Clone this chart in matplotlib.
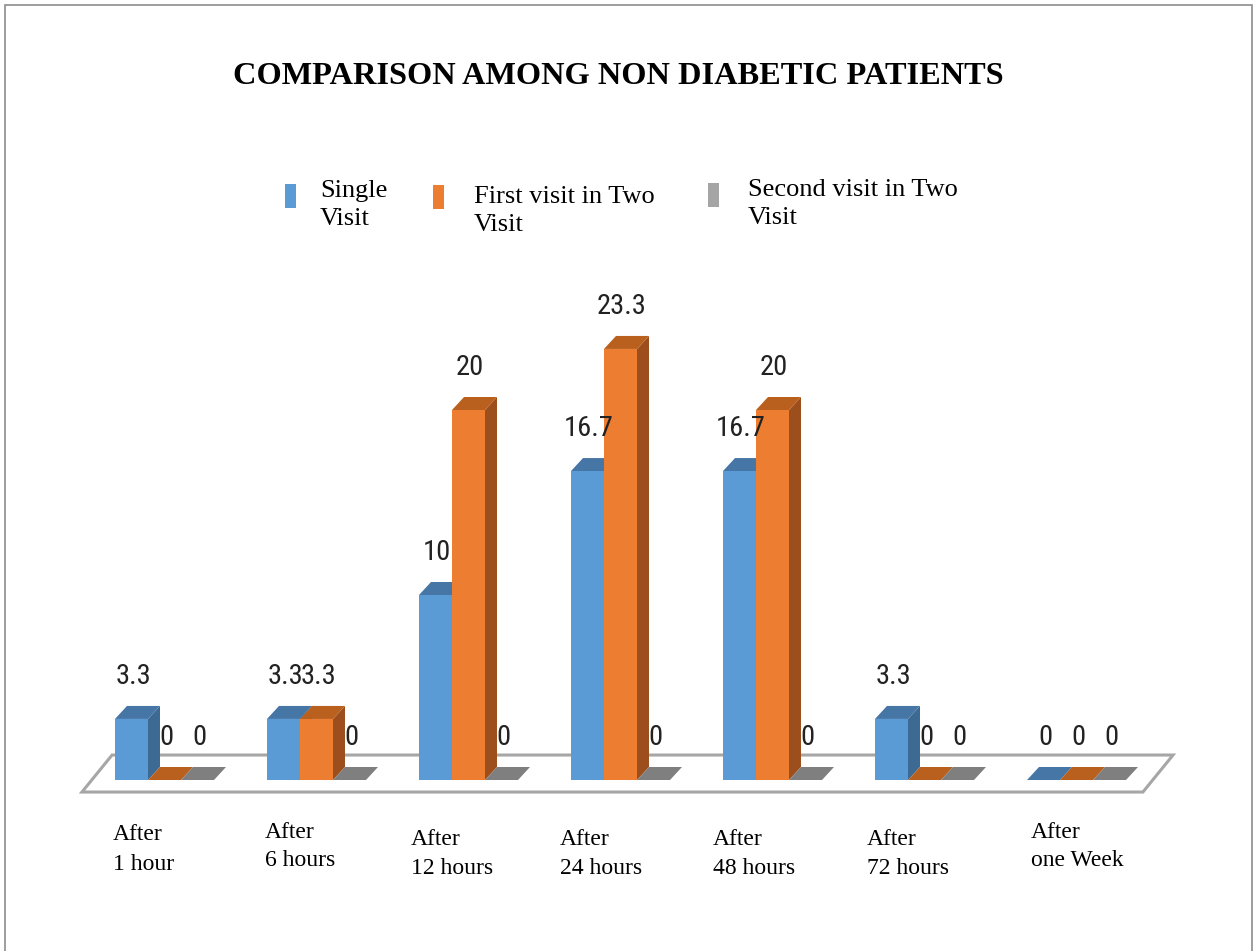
import matplotlib
matplotlib.use("Agg")
import matplotlib.pyplot as plt
from matplotlib.patches import Polygon, Rectangle
from matplotlib import font_manager

# ---- data -------------------------------------------------------------
categories = ["After\n1 hour", "After\n6 hours", "After\n12 hours", "After\n24 hours",
              "After\n48 hours", "After\n72 hours", "After\none Week"]
series_names = ["Single\nVisit", "First visit in Two\nVisit", "Second visit in Two\nVisit"]
single_visit = [3.3, 3.3, 10, 16.7, 16.7, 3.3, 0]
first_visit = [0, 3.3, 20, 23.3, 20, 0, 0]
second_visit = [0, 0, 0, 0, 0, 0, 0]
series_values = [single_visit, first_visit, second_visit]

# ---- styling ----------------------------------------------------------
W, H = 1259, 951
front_colors = ["#5B9BD5", "#ED7D31", "#A5A5A5"]
top_colors = ["#4676A6", "#B9601F", "#7F7F7F"]
side_colors = ["#3D6A93", "#9C4F1C", "#6E6E6E"]

available = {f.name for f in font_manager.fontManager.ttflist}
narrow = "DejaVu Sans"
for cand in ["Liberation Sans Narrow", "DejaVu Sans Condensed", "Roboto Condensed"]:
    if cand in available:
        narrow = cand
        break
serif = "Liberation Serif"

fig = plt.figure(figsize=(W / 100, H / 100), dpi=100)
ax = fig.add_axes([0, 0, 1, 1])
ax.axis("off")

group_px = 152.0          # pixels between category groups
unit_px = 18.5            # pixels per value unit
x0_px, base_px = 164.5, 780.0
ax.set_xlim(-x0_px / group_px, (W - x0_px) / group_px)
ax.set_ylim(-(H - base_px) / unit_px, base_px / unit_px)

bw = 33 / group_px        # bar width
ddx = 12 / group_px       # depth offset in x
ddy = 13 / unit_px        # depth offset in y

# floor of the 3-D plot
floor = Polygon([(-0.543, -0.65), (6.437, -0.65), (6.635, 1.35), (-0.345, 1.35)],
                closed=True, facecolor="white", edgecolor="#A6A6A6", lw=2.2, zorder=1)
ax.add_patch(floor)

for i, cat in enumerate(categories):
    for s, vals in enumerate(series_values):
        v = vals[i]
        xl = i - 1.5 * bw + s * bw
        xr = xl + bw
        z = 2 + i * 10 + s * 3
        side = Polygon([(xr, 0), (xr + ddx, ddy), (xr + ddx, v + ddy), (xr, v)],
                       closed=True, facecolor=side_colors[s], edgecolor="none", zorder=z)
        top = Polygon([(xl, v), (xr, v), (xr + ddx, v + ddy), (xl + ddx, v + ddy)],
                      closed=True, facecolor=top_colors[s], edgecolor="none", zorder=z + 1)
        front = Rectangle((xl, 0), bw, v, facecolor=front_colors[s], edgecolor="none",
                          zorder=z + 2)
        ax.add_patch(side)
        ax.add_patch(top)
        ax.add_patch(front)
        ax.text(xl + bw / 2 + 0.01, v + ddy + 1.6, f"{v:g}", ha="center", va="center",
                fontsize=20.5, family=narrow, color="#222222", zorder=200)

# category labels
label_dx = [-51.5, -51.5, -57.5, -60.5, -59.5, -57.5, -45.5]
label_y = [849.5, 846.5, 854, 854, 854, 854, 846.5]
for i, cat in enumerate(categories):
    ax.text(i + label_dx[i] / group_px, (base_px - label_y[i]) / unit_px, cat,
            ha="left", va="center", fontsize=17, family=serif, linespacing=1.5,
            color="black")

# title
fig.text(618 / W, 1 - 76 / H, "COMPARISON AMONG NON DIABETIC PATIENTS", ha="center",
         va="center", fontsize=23.3, fontweight="bold", family=serif)

# legend
leg_marker_x = [285, 433, 708]
leg_marker_y = [196, 197, 195]
leg_text_x = [320, 474, 748]
leg_text_y = [205, 211, 204]
for s, name in enumerate(series_names):
    fig.add_artist(Rectangle((leg_marker_x[s] / W, 1 - (leg_marker_y[s] + 12) / H),
                             11 / W, 24 / H, transform=fig.transFigure,
                             facecolor=front_colors[s], edgecolor="none"))
    fig.text(leg_text_x[s] / W, 1 - leg_text_y[s] / H, name, ha="left", va="center",
             fontsize=19, family=serif, linespacing=1.4)

# outer border
fig.add_artist(Rectangle((5 / W, -0.01), 1247 / W, 1 - 5 / H + 0.01,
                         transform=fig.transFigure, facecolor="none",
                         edgecolor="#8C8C8C", lw=1.2))

fig.savefig("out.png", dpi=100)
